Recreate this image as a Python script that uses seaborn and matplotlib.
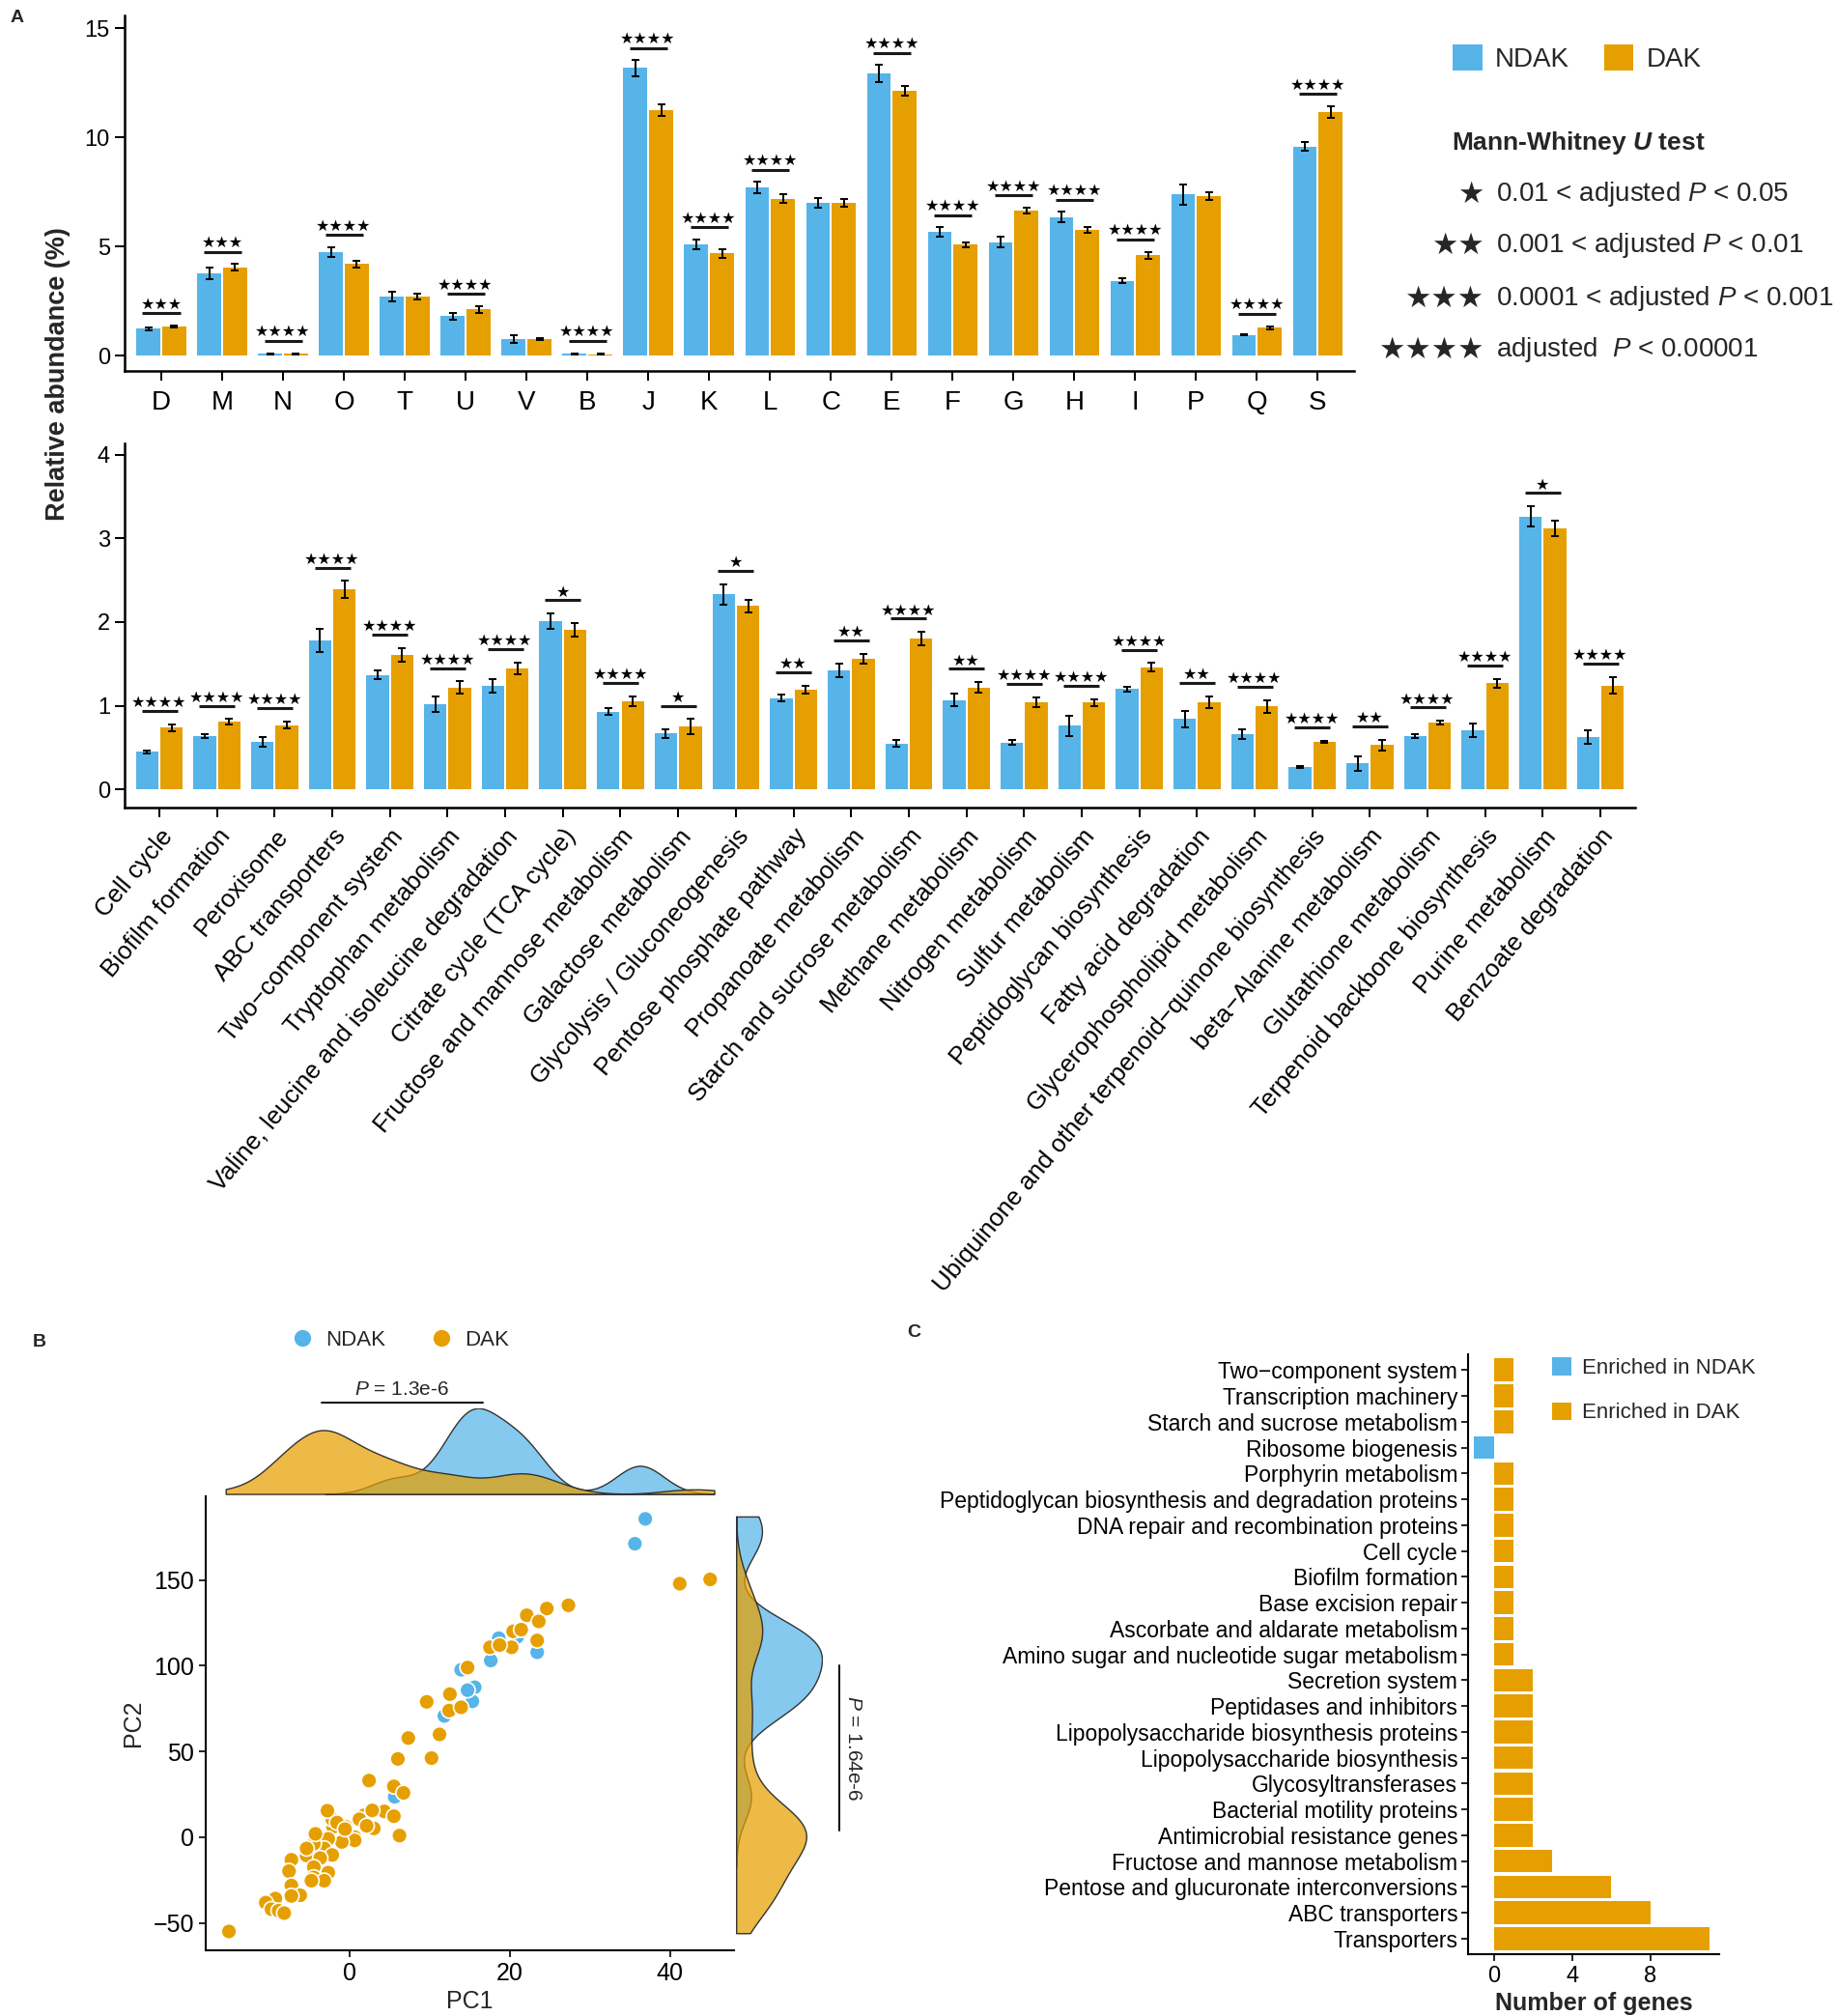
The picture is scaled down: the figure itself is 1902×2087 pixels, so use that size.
import numpy as np
import pandas as pd
import matplotlib
matplotlib.use("Agg")
import matplotlib.pyplot as plt
import matplotlib.transforms as mtransforms
import seaborn as sns

# ---------------- DATA ----------------
# Panel A (top): COG categories
cog_categories = ["D", "M", "N", "O", "T", "U", "V", "B", "J", "K", "L", "C", "E", "F", "G", "H", "I", "P", "Q", "S"]
cog_ndak = [1.22, 3.76, 0.08, 4.75, 2.70, 1.81, 0.74, 0.08, 13.18, 5.10, 7.70, 7.01, 12.93, 5.65, 5.20, 6.34, 3.42, 7.38, 0.94, 9.58]
cog_dak = [1.34, 4.04, 0.07, 4.20, 2.70, 2.11, 0.76, 0.06, 11.25, 4.68, 7.19, 7.00, 12.15, 5.08, 6.64, 5.77, 4.60, 7.31, 1.28, 11.17]
cog_ndak_se = [0.07, 0.25, 0.03, 0.22, 0.22, 0.15, 0.18, 0.03, 0.37, 0.22, 0.25, 0.22, 0.40, 0.22, 0.25, 0.24, 0.12, 0.46, 0.03, 0.20]
cog_dak_se = [0.04, 0.16, 0.02, 0.16, 0.12, 0.16, 0.05, 0.02, 0.27, 0.19, 0.19, 0.19, 0.22, 0.12, 0.15, 0.13, 0.16, 0.16, 0.07, 0.27]
cog_sig = [3, 3, 4, 4, 0, 4, 0, 4, 4, 4, 4, 0, 4, 4, 4, 4, 4, 0, 4, 4]

# Panel A (bottom): KEGG pathways
kegg_pathways = ["Cell cycle", "Biofilm formation", "Peroxisome", "ABC transporters",
                 "Two\u2212component system", "Tryptophan metabolism",
                 "Valine, leucine and isoleucine degradation", "Citrate cycle (TCA cycle)",
                 "Fructose and mannose metabolism", "Galactose metabolism",
                 "Glycolysis / Gluconeogenesis", "Pentose phosphate pathway",
                 "Propanoate metabolism", "Starch and sucrose metabolism", "Methane metabolism",
                 "Nitrogen metabolism", "Sulfur metabolism", "Peptidoglycan biosynthesis",
                 "Fatty acid degradation", "Glycerophospholipid metabolism",
                 "Ubiquinone and other terpenoid\u2212quinone biosynthesis", "beta\u2212Alanine metabolism",
                 "Glutathione metabolism", "Terpenoid backbone biosynthesis", "Purine metabolism",
                 "Benzoate degradation"]
kegg_ndak = [0.45, 0.64, 0.57, 1.78, 1.37, 1.02, 1.24, 2.01, 0.93, 0.67, 2.33, 1.09, 1.42, 0.55,
             1.07, 0.56, 0.76, 1.20, 0.84, 0.66, 0.27, 0.31, 0.64, 0.71, 3.26, 0.63]
kegg_dak = [0.74, 0.81, 0.77, 2.39, 1.61, 1.22, 1.45, 1.91, 1.05, 0.75, 2.19, 1.19, 1.56, 1.80,
            1.22, 1.04, 1.04, 1.46, 1.04, 0.99, 0.57, 0.53, 0.80, 1.27, 3.12, 1.24]
kegg_ndak_se = [0.02, 0.02, 0.06, 0.14, 0.05, 0.09, 0.08, 0.09, 0.04, 0.05, 0.12, 0.04, 0.08, 0.04,
                0.07, 0.03, 0.12, 0.03, 0.10, 0.06, 0.01, 0.09, 0.02, 0.08, 0.12, 0.08]
kegg_dak_se = [0.04, 0.03, 0.04, 0.10, 0.08, 0.07, 0.07, 0.08, 0.06, 0.09, 0.08, 0.05, 0.06, 0.08,
               0.06, 0.06, 0.04, 0.05, 0.07, 0.08, 0.01, 0.06, 0.02, 0.05, 0.09, 0.10]
kegg_sig = [4, 4, 4, 4, 4, 4, 4, 1, 4, 1, 1, 2, 2, 4, 2, 4, 4, 4, 2, 4, 4, 2, 4, 4, 1, 4]

# Panel B: PCA scores
pc_ndak_x = [36.9, 35.6, 13.9, 15.6, 15.3, 11.8, 14.7, 17.6, 23.4, 18.6, 21.5, 20.9, 5.6]
pc_ndak_y = [185.6, 171.1, 97.6, 87.4, 79.2, 70.7, 85.7, 103.0, 107.8, 116.0, 121.0, 116.8, 23.5]
pc_dak_x = [-15.1, 45.0, 41.2, 27.3, 24.6, 22.1, 23.6, 20.4, 21.4, 23.4, 20.2, 17.5, 18.7, 14.7,
            12.5, 9.6, 12.4, 13.9, 7.3, 11.2, 6.0, 10.2, 2.4, 5.5, 6.7, 6.2, 4.3, 5.5, 3.0, 1.8,
            2.8, 0.6, -0.5, 0.6, -1.0, -2.1, -2.2, -2.8, -2.7, -3.2, -4.5, -4.3, -2.2, -5.4, -3.7,
            -7.3, -7.6, -2.7, -4.5, -4.5, -3.2, -7.3, -6.2, -7.3, -9.3, -10.5, -9.8, -8.9, -8.2,
            -4.8, -1.6, -0.6, -5.4, 1.2, 2.1]
pc_dak_y = [-55.0, 150.3, 147.8, 135.2, 133.3, 129.4, 125.8, 120.0, 121.0, 114.7, 110.7, 110.7,
            112.0, 98.9, 83.4, 78.9, 73.8, 75.7, 57.8, 59.9, 45.6, 46.1, 33.0, 29.6, 25.8, 0.9,
            15.0, 12.2, 5.1, 12.8, 15.6, 0.0, 6.0, -1.9, -2.8, 6.0, 10.4, 15.4, -1.0, -6.6, -3.8,
            1.9, -10.4, -10.7, -12.2, -13.2, -19.8, -20.7, -17.5, -23.5, -25.4, -28.2, -33.9,
            -34.3, -35.8, -38.2, -42.0, -42.9, -44.3, -25.4, 8.5, 4.7, -6.6, 10.4, 6.6]

# Panel C: enriched functions
enrich_terms = ["Two\u2212component system", "Transcription machinery", "Starch and sucrose metabolism",
                "Ribosome biogenesis", "Porphyrin metabolism",
                "Peptidoglycan biosynthesis and degradation proteins",
                "DNA repair and recombination proteins", "Cell cycle", "Biofilm formation",
                "Base excision repair", "Ascorbate and aldarate metabolism",
                "Amino sugar and nucleotide sugar metabolism", "Secretion system",
                "Peptidases and inhibitors", "Lipopolysaccharide biosynthesis proteins",
                "Lipopolysaccharide biosynthesis", "Glycosyltransferases",
                "Bacterial motility proteins", "Antimicrobial resistance genes",
                "Fructose and mannose metabolism", "Pentose and glucuronate interconversions",
                "ABC transporters", "Transporters"]
enrich_counts = [1, 1, 1, -1, 1, 1, 1, 1, 1, 1, 1, 1, 2, 2, 2, 2, 2, 2, 2, 3, 6, 8, 11]
enrich_group = ["Enriched in DAK"] * 3 + ["Enriched in NDAK"] + ["Enriched in DAK"] * 19

groups = ["NDAK", "DAK"]
BLUE = "#56B4E9"
ORANGE = "#E69F00"
palette = {"NDAK": BLUE, "DAK": ORANGE}

# ---------------- STYLE ----------------
sns.set_style("white")
plt.rcParams['font.family'] = ['Liberation Sans', 'DejaVu Sans']
plt.rcParams['mathtext.fontset'] = 'custom'
plt.rcParams['mathtext.rm'] = 'Liberation Sans'
plt.rcParams['mathtext.it'] = 'Liberation Sans:italic'
plt.rcParams['mathtext.bf'] = 'Liberation Sans:bold'
plt.rcParams['mathtext.bfit'] = 'Liberation Sans:italic:bold'
plt.rcParams['axes.unicode_minus'] = True

W, H = 1902, 2087
K = 1.0095
fig = plt.figure(figsize=(W / 100, H / 100), dpi=100)
fig.patch.set_facecolor("white")


def fx(x):
    return x * K / W


def fy(y):
    return 1 - y * K / H


def rect(l, t, r, b):
    return [fx(l), fy(b), fx(r) - fx(l), fy(t) - fy(b)]


def style_axis(ax, lw=1.8, tick_len=7):
    sns.despine(ax=ax)
    for s in ["left", "bottom"]:
        ax.spines[s].set_linewidth(lw)
        ax.spines[s].set_color("black")
    ax.tick_params(axis="both", which="both", bottom=True, left=True, direction="out",
                   length=tick_len, width=lw * 0.8, color="black", labelcolor="black")


def bar_panel(ax, cats, ndak, dak, ndak_se, dak_se, sig, off, gap_star, legend):
    n = len(cats)
    df = pd.DataFrame({"cat": cats * 2, "group": ["NDAK"] * n + ["DAK"] * n,
                       "value": ndak + dak})
    sns.barplot(data=df, x="cat", y="value", hue="group", order=cats, hue_order=groups,
                palette=palette, saturation=1, width=0.85, gap=0.08, errorbar=None,
                linewidth=0, legend=legend, ax=ax)
    for cont, se in zip(ax.containers, [ndak_se, dak_se]):
        xs = [b.get_x() + b.get_width() / 2 for b in cont]
        ys = [b.get_height() for b in cont]
        ax.errorbar(xs, ys, yerr=se, fmt="none", ecolor="black", elinewidth=1.4,
                    capsize=2.6, capthick=1.4, zorder=5)
    for i in range(n):
        if not sig[i]:
            continue
        top = max(ndak[i] + ndak_se[i], dak[i] + dak_se[i])
        y = top + off
        ax.plot([i - 0.31, i + 0.31], [y, y], color="#1a1a1a", lw=2.2,
                solid_capstyle="butt", zorder=6)
        ax.text(i, y + gap_star, "\u2605" * sig[i], ha="center", va="bottom",
                fontsize=11.5, color="black", family=["DejaVu Sans"])
    ax.set_xlabel("")
    ax.set_ylabel("")
    ax.set_xlim(-0.6, n - 0.4)
    style_axis(ax)


# ---------------- PANEL A (top) ----------------
ax1 = fig.add_axes(rect(128, 16, 1389, 380))
bar_panel(ax1, cog_categories, cog_ndak, cog_dak, cog_ndak_se, cog_dak_se, cog_sig,
          0.55, 0.08, True)
ax1.set_ylim(-0.69, 15.58)
ax1.set_yticks([0, 5, 10, 15])
ax1.tick_params(axis="x", labelsize=20, pad=8)
ax1.tick_params(axis="y", labelsize=17, pad=4)
sns.move_legend(ax1, "upper left", bbox_to_anchor=(fx(1490), fy(46)),
                bbox_transform=fig.transFigure, ncol=2, frameon=False, title=None,
                fontsize=20, handlelength=1.1, handleheight=1.1, handletextpad=0.47,
                columnspacing=1.3, borderpad=0, borderaxespad=0)

# ---------------- PANEL A (bottom) ----------------
ax2 = fig.add_axes(rect(128, 455, 1677, 828))
bar_panel(ax2, kegg_pathways, kegg_ndak, kegg_dak, kegg_ndak_se, kegg_dak_se, kegg_sig,
          0.16, 0.01, False)
ax2.set_ylim(-0.215, 4.13)
ax2.set_yticks([0, 1, 2, 3, 4])
ax2.tick_params(axis="y", labelsize=17, pad=4)
ax2.set_xticks(range(len(kegg_pathways)))
ax2.set_xticklabels(kegg_pathways, rotation=50, ha="right", va="top",
                    rotation_mode="anchor", fontsize=18.5)
ax2.tick_params(axis="x", pad=6)

fig.text(fx(59), fy(383), "Relative abundance (%)", rotation=90, ha="center",
         va="center", fontsize=19.5, fontweight="bold")
fig.text(fx(10), fy(18), "A", fontsize=14, fontweight="bold", ha="left", va="center")

# significance legend
fig.text(fx(1489), fy(147), r"Mann-Whitney $\mathbfit{U}$ test", fontsize=19,
         fontweight="bold", ha="left", va="center")
leg_rows = [(1, r"0.01 < adjusted $P$ < 0.05"),
            (2, r"0.001 < adjusted $P$ < 0.01"),
            (3, r"0.0001 < adjusted $P$ < 0.001"),
            (4, r"adjusted  $P$ < 0.00001")]
for (k, txt), yy in zip(leg_rows, [199, 252, 306, 359]):
    fig.text(fx(1522), fy(yy), "\u2605" * k, fontsize=22, ha="right", va="center",
             family=["DejaVu Sans"])
    fig.text(fx(1534), fy(yy), txt, fontsize=20, ha="left", va="center")

# ---------------- PANEL B ----------------
df_pc = pd.DataFrame({
    "PC1": pc_ndak_x + pc_dak_x,
    "PC2": pc_ndak_y + pc_dak_y,
    "group": ["NDAK"] * len(pc_ndak_x) + ["DAK"] * len(pc_dak_x),
})
axs = fig.add_axes(rect(211, 1534, 753, 2000))
sns.scatterplot(data=df_pc, x="PC1", y="PC2", hue="group", hue_order=groups,
                palette=palette, s=130, edgecolor="white", linewidth=1.2, alpha=1, ax=axs)
axs.set_xlim(-18, 48)
axs.set_ylim(-66, 199)
axs.set_xticks([0, 20, 40])
axs.set_yticks([-50, 0, 50, 100, 150])
style_axis(axs, lw=1.5, tick_len=5)
axs.tick_params(axis="both", labelsize=18)
axs.set_xlabel("PC1", fontsize=18, labelpad=4)
axs.set_ylabel("PC2", fontsize=18, labelpad=6)
sns.move_legend(axs, "center", bbox_to_anchor=(fx(405), fy(1374)),
                bbox_transform=fig.transFigure, ncol=2, frameon=False, title=None,
                fontsize=16, markerscale=1.2, handletextpad=0.1, columnspacing=1.6)

# top marginal density
axt = fig.add_axes(rect(211, 1444, 753, 1532))
sns.kdeplot(data=df_pc, x="PC1", hue="group", hue_order=["DAK", "NDAK"], palette=palette,
            fill=True, common_norm=False, alpha=0.72, linewidth=1.0, edgecolor="#333333",
            bw_adjust=0.55, clip=(-15.5, 45.5), legend=False, ax=axt)
axt.set_xlim(-18, 48)
ymax = max(p.vertices[:, 1].max() for c in axt.collections for p in c.get_paths())
axt.set_ylim(0, ymax * 1.0)
axt.axis("off")
tt = mtransforms.blended_transform_factory(axt.transData, axt.transAxes)
axt.plot([-3.5, 16.6], [1.06, 1.06], color="black", lw=1.4, transform=tt, clip_on=False)
axt.text(6.5, 1.11, r"$P$ = 1.3e-6", transform=tt, ha="center", va="bottom", fontsize=15)

# right marginal density
axr = fig.add_axes(rect(755, 1534, 843, 2000))
sns.kdeplot(data=df_pc, y="PC2", hue="group", hue_order=["DAK", "NDAK"], palette=palette,
            fill=True, common_norm=False, alpha=0.72, linewidth=1.0, edgecolor="#333333",
            bw_adjust=0.55, clip=(-56, 187), legend=False, ax=axr)
axr.set_ylim(-66, 199)
xmax = max(p.vertices[:, 0].max() for c in axr.collections for p in c.get_paths())
axr.set_xlim(0, xmax * 1.0)
axr.axis("off")
tr = mtransforms.blended_transform_factory(axr.transAxes, axr.transData)
axr.plot([1.2, 1.2], [4, 100], color="black", lw=1.4, transform=tr, clip_on=False)
axr.text(1.26, 52, r"$P$ = 1.64e-6", transform=tr, ha="left", va="center",
         rotation=-90, fontsize=15)

fig.text(fx(40), fy(1376), "B", fontsize=14, fontweight="bold", ha="center", va="center")

# ---------------- PANEL C ----------------
df_en = pd.DataFrame({"term": enrich_terms, "count": enrich_counts, "group": enrich_group})
axc = fig.add_axes(rect(1506, 1389, 1763, 2004))
sns.barplot(data=df_en, x="count", y="term", hue="group", order=enrich_terms,
            hue_order=["Enriched in NDAK", "Enriched in DAK"],
            palette={"Enriched in NDAK": BLUE, "Enriched in DAK": ORANGE},
            dodge=False, width=0.88, saturation=1, linewidth=0, errorbar=None,
            orient="h", ax=axc)
axc.set_xlim(-1.3, 11.5)
axc.set_ylim(len(enrich_terms) - 0.4, -0.6)
axc.set_xticks([0, 4, 8])
style_axis(axc, lw=1.5, tick_len=5)
axc.tick_params(axis="y", labelsize=16.5, pad=3)
axc.tick_params(axis="x", labelsize=17)
axc.set_ylabel("")
axc.set_xlabel("Number of genes", fontsize=18, fontweight="bold", labelpad=4)
sns.move_legend(axc, "upper left", bbox_to_anchor=(fx(1592), fy(1392)),
                bbox_transform=fig.transFigure, frameon=False, title=None, fontsize=16,
                handlelength=0.9, handleheight=0.9, handletextpad=0.5, labelspacing=1.1,
                borderpad=0, borderaxespad=0)

fig.text(fx(937), fy(1367), "C", fontsize=14, fontweight="bold", ha="center", va="center")

fig.savefig("out.png", dpi=100, facecolor="white")
